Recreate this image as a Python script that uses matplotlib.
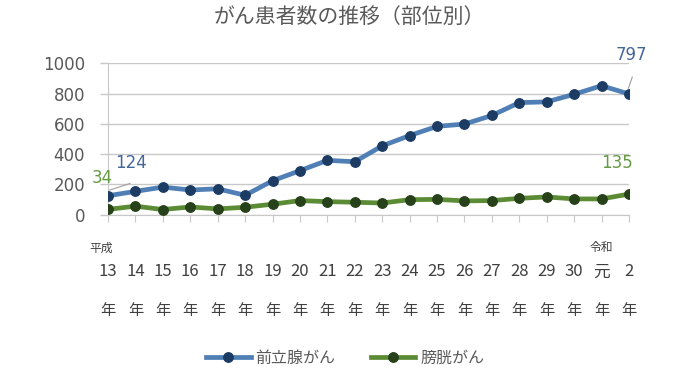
import matplotlib
matplotlib.use("Agg")
import matplotlib.pyplot as plt
import matplotlib.transforms as mtransforms

plt.rcParams['font.family'] = ['Noto Sans CJK JP', 'DejaVu Sans']

title = "がん患者数の推移（部位別）"
era_top = ["平成"] + [""] * 17 + ["令和", ""]
year_nums = ["13", "14", "15", "16", "17", "18", "19", "20", "21", "22",
             "23", "24", "25", "26", "27", "28", "29", "30", "元", "2"]
prostate = [124, 153, 181, 162, 170, 127, 223, 290, 358, 349,
            454, 522, 583, 598, 655, 740, 745, 795, 852, 797]
bladder = [34, 55, 33, 50, 37, 48, 68, 92, 85, 81,
           76, 98, 100, 90, 92, 107, 116, 103, 103, 135]
yticks = [0, 200, 400, 600, 800, 1000]

blue_line = "#4f7fb5"
blue_mark = "#1c3c63"
green_line = "#5b8c35"
green_mark = "#27421a"
blue_text = "#44679b"
green_text = "#679a45"
gray_text = "#595959"
grid_c = "#c8c8c8"

fig = plt.figure(figsize=(6.8, 3.82), dpi=100)
ax = fig.add_axes([108/680, 1 - 214.5/382, (629-108)/680, (214.5-63.3)/382])

x = list(range(len(year_nums)))
ax.plot(x, prostate, color=blue_line, lw=3.4, marker='o', ms=6.8,
        mfc=blue_mark, mec=blue_mark, label="前立腺がん", zorder=3)
ax.plot(x, bladder, color=green_line, lw=3.4, marker='o', ms=6.8,
        mfc=green_mark, mec=green_mark, label="膀胱がん", zorder=3)

ax.set_xlim(0, len(x) - 1)
ax.set_ylim(0, 1000)
ax.set_yticks(yticks)
ax.set_yticklabels([str(v) for v in yticks], fontsize=12, color=gray_text,
                   family='DejaVu Sans')
ax.tick_params(axis='y', length=6, color=grid_c, width=1, pad=10.5)
ax.grid(axis='y', color=grid_c, lw=1)
ax.set_axisbelow(True)
for s in ['top', 'right']:
    ax.spines[s].set_visible(False)
ax.spines['left'].set_color(grid_c)
ax.spines['bottom'].set_color(grid_c)
ax.set_xticks(x)
ax.set_xticklabels([])
ax.tick_params(axis='x', length=5, color=grid_c, direction='out')

trans = mtransforms.blended_transform_factory(ax.transData, fig.transFigure)
for i in x:
    if era_top[i]:
        ax.text(i - 0.25 if i == 0 else i, 1 - 248/382, era_top[i], transform=trans,
                ha='center', va='center', fontsize=8.5, color="#404040")
    ax.text(i, 1 - 272/382, year_nums[i], transform=trans, ha='center', va='center',
            fontsize=12, color="#404040")
    ax.text(i, 1 - 311/382, "年", transform=trans, ha='center', va='center',
            fontsize=11, color="#404040")

# data labels
lab_font = dict(fontsize=12, family='DejaVu Sans')
ax.annotate(str(prostate[0]), xy=(0, prostate[0]), xytext=(0.26, 341),
            color=blue_text, ha='left', va='center', **lab_font)
ax.annotate(str(bladder[0]), xy=(0, bladder[0]), xytext=(-0.22, 241),
            color=green_text, ha='center', va='center', annotation_clip=False,
            **lab_font)
ax.plot([0.07, 0.8], [162, 205], color="#a0a0a0", lw=0.8, zorder=2)
ax.annotate(str(prostate[-1]), xy=(19, prostate[-1]), xytext=(19.09, 1055),
            color=blue_text, ha='center', va='center', annotation_clip=False,
            **lab_font)
ax.plot([18.98, 19.12], [836, 909], color="#a0a0a0", lw=0.8, clip_on=False)
ax.annotate(str(bladder[-1]), xy=(19, bladder[-1]), xytext=(18.56, 341),
            color=green_text, ha='center', va='center', **lab_font)

fig.text(349/680, 1 - 17/382, title, ha='center', va='center', fontsize=15,
         color=gray_text)

leg = fig.legend(loc='center', bbox_to_anchor=(345/680, 1 - 358/382), ncol=2,
                 frameon=False, fontsize=11.5, handlelength=2.8, columnspacing=2.2,
                 handletextpad=0.3)
for t in leg.get_texts():
    t.set_color(gray_text)

fig.savefig("out.png", dpi=100)
